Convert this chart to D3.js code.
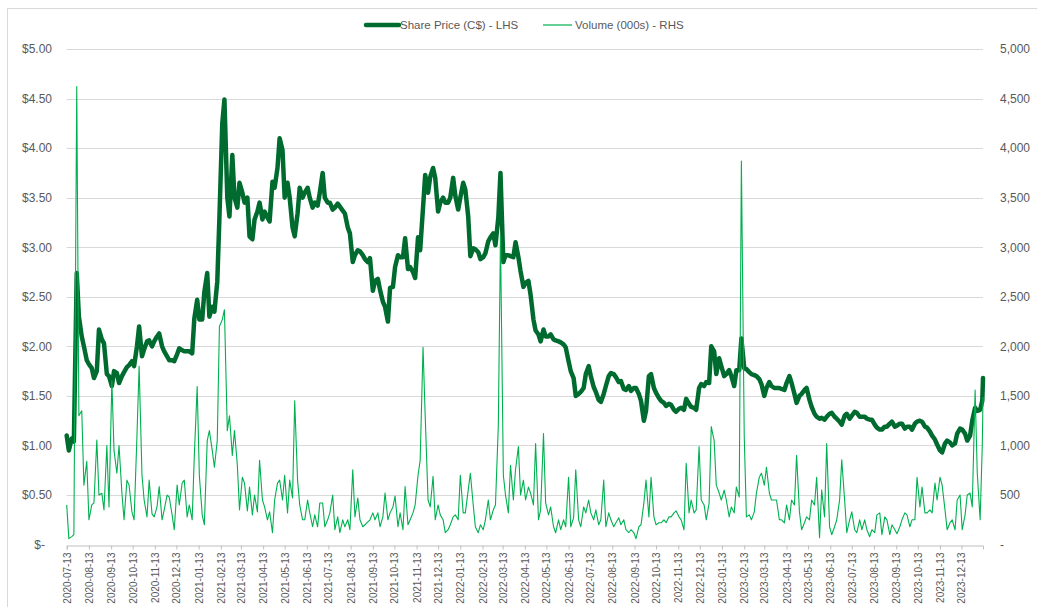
<!DOCTYPE html>
<html>
<head>
<meta charset="utf-8">
<script src="https://cdn.jsdelivr.net/npm/d3@7"></script>
<style>
  body { margin: 0; background: #fff; }
  text { font-family: "Liberation Sans", Arial, sans-serif; }
</style>
</head>
<body>
<div id="chart"></div>
<script>
// Data -------------------------------------
// weekly dates (Mondays), last entry is the final trading day
var weeks = [
  "2020-07-13","2020-07-20","2020-07-27","2020-08-03","2020-08-10","2020-08-17","2020-08-24","2020-08-31",
  "2020-09-07","2020-09-14","2020-09-21","2020-09-28","2020-10-05","2020-10-12","2020-10-19","2020-10-26",
  "2020-11-02","2020-11-09","2020-11-16","2020-11-23","2020-11-30","2020-12-07","2020-12-14","2020-12-21","2020-12-28",
  "2021-01-04","2021-01-11","2021-01-18","2021-01-25","2021-02-01","2021-02-08","2021-02-15","2021-02-22",
  "2021-03-01","2021-03-08","2021-03-15","2021-03-22","2021-03-29","2021-04-05","2021-04-12","2021-04-19","2021-04-26",
  "2021-05-03","2021-05-10","2021-05-17","2021-05-24","2021-05-31","2021-06-07","2021-06-14","2021-06-21","2021-06-28",
  "2021-07-05","2021-07-12","2021-07-19","2021-07-26","2021-08-02","2021-08-09","2021-08-16","2021-08-23","2021-08-30",
  "2021-09-06","2021-09-13","2021-09-20","2021-09-27","2021-10-04","2021-10-11","2021-10-18","2021-10-25",
  "2021-11-01","2021-11-08","2021-11-15","2021-11-22","2021-11-29","2021-12-06","2021-12-13","2021-12-20","2021-12-27",
  "2022-01-03","2022-01-10","2022-01-17","2022-01-24","2022-01-31","2022-02-07","2022-02-14","2022-02-21","2022-02-28",
  "2022-03-07","2022-03-14","2022-03-21","2022-03-28","2022-04-04","2022-04-11","2022-04-18","2022-04-25",
  "2022-05-02","2022-05-09","2022-05-16","2022-05-23","2022-05-30","2022-06-06","2022-06-13","2022-06-20","2022-06-27",
  "2022-07-04","2022-07-11","2022-07-18","2022-07-25","2022-08-01","2022-08-08","2022-08-15","2022-08-22","2022-08-29",
  "2022-09-05","2022-09-12","2022-09-19","2022-09-26","2022-10-03","2022-10-10","2022-10-17","2022-10-24","2022-10-31",
  "2022-11-07","2022-11-14","2022-11-21","2022-11-28","2022-12-05","2022-12-12","2022-12-19","2022-12-26",
  "2023-01-02","2023-01-09","2023-01-16","2023-01-23","2023-01-30","2023-02-06","2023-02-13","2023-02-20","2023-02-27",
  "2023-03-06","2023-03-13","2023-03-20","2023-03-27","2023-04-03","2023-04-10","2023-04-17","2023-04-24",
  "2023-05-01","2023-05-08","2023-05-15","2023-05-22","2023-05-29","2023-06-05","2023-06-12","2023-06-19","2023-06-26",
  "2023-07-03","2023-07-10","2023-07-17","2023-07-24","2023-07-31","2023-08-07","2023-08-14","2023-08-21","2023-08-28",
  "2023-09-04","2023-09-11","2023-09-18","2023-09-25","2023-10-02","2023-10-09","2023-10-16","2023-10-23","2023-10-30",
  "2023-11-06","2023-11-13","2023-11-20","2023-11-27","2023-12-04","2023-12-11","2023-12-18","2023-12-25",
  "2024-01-01","2024-01-08","2024-01-12"
];

// Share price (C$), two readings per week: [Monday, Thursday]
var sharePrice = [
  [1.10,0.95],[1.07,1.04],[2.74,2.30],[2.10,2.00],[1.86,1.82],[1.78,1.68],[1.75,2.17],[2.07,2.03],[1.72,1.70],[1.60,1.75],
  [1.73,1.63],[1.70,1.74],[1.79,1.81],[1.85,1.80],[2.00,2.20],[1.90,1.97],[2.05,2.06],[2.00,2.05],[2.10,2.13],[2.00,1.95],
  [1.90,1.86],[1.86,1.85],[1.92,1.98],[1.96,1.95],[1.95,1.95],[1.93,2.28],[2.47,2.27],[2.27,2.55],[2.74,2.30],[2.40,2.35],
  [2.65,3.30],[4.25,4.49],[3.50,3.31],[3.93,3.50],[3.40,3.65],[3.55,3.45],[3.50,3.11],[3.08,3.28],[3.36,3.45],[3.28,3.36],
  [3.30,3.26],[3.66,3.60],[3.80,4.10],[3.98,3.50],[3.65,3.50],[3.20,3.11],[3.34,3.60],[3.50,3.55],[3.60,3.50],[3.40,3.45],
  [3.42,3.55],[3.75,3.50],[3.45,3.45],[3.38,3.40],[3.44,3.41],[3.37,3.34],[3.20,3.14],[2.85,2.92],[2.97,2.96],[2.92,2.88],
  [2.85,2.89],[2.56,2.66],[2.68,2.57],[2.45,2.40],[2.25,2.59],[2.60,2.80],[2.92,2.90],[2.90,3.09],[2.78,2.80],[2.75,2.69],
  [3.10,2.97],[3.40,3.73],[3.55,3.71],[3.80,3.70],[3.36,3.45],[3.50,3.45],[3.45,3.50],[3.70,3.52],[3.38,3.50],[3.65,3.58],
  [3.31,2.91],[2.99,2.98],[2.95,2.88],[2.90,2.94],[3.06,3.10],[3.14,3.02],[3.30,3.75],[2.85,2.92],[2.92,2.91],[2.90,3.05],
  [2.90,2.76],[2.60,2.64],[2.66,2.52],[2.27,2.16],[2.12,2.05],[2.17,2.10],[2.10,2.12],[2.07,2.06],[2.05,2.04],[2.02,1.99],
  [1.85,1.75],[1.68,1.50],[1.52,1.54],[1.58,1.72],[1.80,1.70],[1.59,1.54],[1.46,1.44],[1.52,1.60],[1.70,1.73],[1.72,1.69],
  [1.64,1.65],[1.57,1.56],[1.60,1.55],[1.58,1.58],[1.52,1.45],[1.25,1.35],[1.70,1.72],[1.58,1.53],[1.48,1.45],[1.43,1.40],
  [1.42,1.41],[1.36,1.34],[1.37,1.38],[1.36,1.47],[1.42,1.39],[1.38,1.36],[1.58,1.62],[1.60,1.64],[1.63,2.00],[1.95,1.72],
  [1.88,1.80],[1.70,1.72],[1.76,1.70],[1.60,1.76],[1.76,2.08],[1.78,1.77],[1.74,1.72],[1.71,1.70],[1.67,1.62],[1.50,1.58],
  [1.64,1.60],[1.58,1.58],[1.58,1.57],[1.56,1.63],[1.70,1.63],[1.52,1.43],[1.50,1.52],[1.56,1.58],[1.46,1.39],[1.32,1.29],
  [1.27,1.28],[1.26,1.29],[1.32,1.33],[1.29,1.27],[1.24,1.21],[1.30,1.32],[1.27,1.30],[1.34,1.33],[1.29,1.29],[1.29,1.27],
  [1.26,1.26],[1.21,1.18],[1.16,1.16],[1.19,1.19],[1.22,1.24],[1.19,1.20],[1.22,1.22],[1.17,1.19],[1.19,1.16],[1.22,1.24],
  [1.25,1.24],[1.19,1.18],[1.14,1.10],[1.06,1.01],[0.95,0.93],[1.02,1.05],[1.03,1.00],[1.02,1.12],[1.17,1.16],[1.12,1.05],
  [1.10,1.25],[1.38,1.35],[1.36,1.45],[1.68]
];

// Volume (000s), two readings per week: [Monday, Thursday]
var volume = [
  [400,60],[80,100],[4620,1300],[1350,600],[840,250],[400,420],[1056,500],[518,350],[1000,380],[1650,950],
  [720,1000],[520,250],[650,600],[330,250],[1100,1800],[700,450],[280,650],[310,280],[380,585],[250,350],
  [500,480],[300,150],[600,400],[620,650],[280,400],[250,900],[1595,700],[300,200],[1050,1150],[950,780],
  [1050,2200],[2270,2370],[1150,1300],[900,1150],[800,350],[680,620],[340,580],[300,500],[330,850],[450,380],
  [250,330],[120,450],[620,650],[450,700],[320,650],[470,1450],[650,400],[250,250],[450,320],[180,300],
  [180,420],[420,180],[250,320],[500,150],[280,120],[250,180],[250,150],[755,280],[470,250],[180,200],
  [230,250],[320,250],[320,180],[280,520],[250,320],[380,490],[180,320],[150,585],[200,250],[320,400],
  [700,850],[1990,1300],[450,380],[690,250],[400,300],[250,120],[150,200],[280,300],[250,700],[320,320],
  [550,720],[400,180],[120,200],[150,250],[450,250],[350,400],[1200,3110],[700,500],[320,800],[450,755],
  [990,500],[650,450],[580,520],[400,1020],[250,350],[1120,420],[300,380],[180,120],[250,150],[250,180],
  [680,180],[270,755],[250,180],[380,320],[450,320],[250,350],[200,250],[650,180],[320,250],[180,220],
  [270,200],[250,150],[120,150],[120,60],[180,200],[420,650],[280,680],[280,200],[220,220],[250,220],
  [280,280],[320,340],[280,250],[150,820],[320,450],[320,350],[990,450],[400,250],[420,1190],[1050,600],
  [520,450],[550,450],[280,380],[320,580],[480,3870],[1090,280],[300,250],[330,520],[680,720],[600,780],
  [520,450],[450,450],[250,250],[220,400],[250,450],[400,900],[330,150],[220,280],[250,450],[400,680],
  [70,550],[280,1020],[180,100],[180,250],[450,855],[450,120],[250,330],[150,120],[250,150],[250,150],
  [80,150],[120,300],[320,100],[280,250],[100,200],[150,110],[180,250],[320,300],[180,250],[250,680],
  [380,580],[320,320],[350,320],[620,450],[680,600],[350,150],[220,250],[150,450],[500,150],[300,500],
  [520,380],[1560,720],[250,1000],[1490]
];

var tickLabels = [
  "2020-07-13","2020-08-13","2020-09-13","2020-10-13","2020-11-13","2020-12-13",
  "2021-01-13","2021-02-13","2021-03-13","2021-04-13","2021-05-13","2021-06-13",
  "2021-07-13","2021-08-13","2021-09-13","2021-10-13","2021-11-13","2021-12-13",
  "2022-01-13","2022-02-13","2022-03-13","2022-04-13","2022-05-13","2022-06-13",
  "2022-07-13","2022-08-13","2022-09-13","2022-10-13","2022-11-13","2022-12-13",
  "2023-01-13","2023-02-13","2023-03-13","2023-04-13","2023-05-13","2023-06-13",
  "2023-07-13","2023-08-13","2023-09-13","2023-10-13","2023-11-13","2023-12-13"
];
var priceTicks = [0, 0.5, 1, 1.5, 2, 2.5, 3, 3.5, 4, 4.5, 5];
var volumeTicks = [0, 500, 1000, 1500, 2000, 2500, 3000, 3500, 4000, 4500, 5000];

// Chart settings -------------------------------------
var width = 1037;
var height = 607;
var plotLeft = 66.7;
var plotRight = 983;
var plotTop = 49;
var plotBottom = 544.6;
var priceColor = '#006b2f';
var volumeColor = '#00b050';
var textColor = '#595959';

var parseDate = d3.timeParse('%Y-%m-%d');

// turn [Mon, Thu] readings into dated points
var toPoints = function(series) {
  var points = [];
  series.forEach(function(pair, i) {
    pair.forEach(function(v, j) {
      points.push({ date: d3.timeDay.offset(parseDate(weeks[i]), j * 3), value: v });
    });
  });
  return points;
};

var svg = d3.select('#chart')
  .append('svg')
  .attr('width', width)
  .attr('height', height);

// chart border (top and left edges visible)
svg.append('path')
  .attr('d', 'M7.5,' + height + 'V8.5H' + width)
  .attr('fill', 'none')
  .attr('stroke', '#d9d9d9');

// Scales -------------------------------------
var x = d3.scaleTime()
  .domain([parseDate(weeks[0]), parseDate(weeks[weeks.length - 1])])
  .range([plotLeft, plotRight]);

var yPrice = d3.scaleLinear()
  .domain([0, 5])
  .range([plotBottom, plotTop]);

var yVolume = d3.scaleLinear()
  .domain([0, 5000])
  .range([plotBottom, plotTop]);

// Gridlines -------------------------------------
svg.append('g')
  .selectAll('line')
  .data(priceTicks.slice(1))
  .enter()
  .append('line')
  .attr('x1', plotLeft)
  .attr('x2', plotRight)
  .attr('y1', function(d) { return Math.round(yPrice(d)) + 0.5; })
  .attr('y2', function(d) { return Math.round(yPrice(d)) + 0.5; })
  .attr('stroke', '#d9d9d9')
  .attr('stroke-width', 1);

// Left axis (price) -------------------------------------
var leftAxis = svg.append('g')
  .attr('transform', 'translate(52,0)')
  .call(d3.axisLeft(yPrice)
    .tickValues(priceTicks)
    .tickSize(0)
    .tickPadding(0)
    .tickFormat(function(d) { return d === 0 ? '$-' : d3.format('$.2f')(d); }));
leftAxis.select('.domain').remove();
leftAxis.selectAll('text')
  .attr('fill', textColor)
  .style('font-size', '12px')
  .attr('dx', function(d) { return d === 0 ? -7 : 0; });

// Right axis (volume) -------------------------------------
var rightAxis = svg.append('g')
  .attr('transform', 'translate(1000,0)')
  .call(d3.axisRight(yVolume)
    .tickValues(volumeTicks)
    .tickSize(0)
    .tickPadding(0)
    .tickFormat(function(d) { return d === 0 ? '-' : d3.format(',')(d); }));
rightAxis.select('.domain').remove();
rightAxis.selectAll('text')
  .attr('fill', textColor)
  .style('font-size', '12px');

// Bottom axis (dates) -------------------------------------
var bottomAxis = svg.append('g')
  .attr('transform', 'translate(0,' + (Math.round(plotBottom) + 0.5) + ')')
  .call(d3.axisBottom(x)
    .tickValues(tickLabels.map(parseDate))
    .tickSize(4)
    .tickSizeOuter(4)
    .tickFormat(d3.timeFormat('%Y-%m-%d')));
bottomAxis.select('.domain').attr('stroke', '#bfbfbf');
bottomAxis.selectAll('.tick line').attr('stroke', '#bfbfbf');
bottomAxis.selectAll('text')
  .attr('fill', textColor)
  .style('font-size', '10px')
  .attr('text-anchor', 'end')
  .attr('transform', 'rotate(-90)')
  .attr('x', -7)
  .attr('y', 0)
  .attr('dy', '0.35em');

// Share price line -------------------------------------
var priceLine = d3.line()
  .x(function(d) { return x(d.date); })
  .y(function(d) { return yPrice(d.value); });

svg.append('path')
  .datum(toPoints(sharePrice))
  .attr('d', priceLine)
  .attr('fill', 'none')
  .attr('stroke', priceColor)
  .attr('stroke-width', 4.5)
  .attr('stroke-linejoin', 'round')
  .attr('stroke-linecap', 'round');

// Volume line -------------------------------------
var volumeLine = d3.line()
  .x(function(d) { return x(d.date); })
  .y(function(d) { return yVolume(d.value); });

svg.append('path')
  .datum(toPoints(volume))
  .attr('d', volumeLine)
  .attr('fill', 'none')
  .attr('stroke', volumeColor)
  .attr('stroke-width', 1.1)
  .attr('stroke-linejoin', 'round');

// Legend -------------------------------------
var legend = svg.append('g').attr('transform', 'translate(0,25)');
legend.append('line')
  .attr('x1', 366).attr('x2', 399)
  .attr('stroke', priceColor)
  .attr('stroke-width', 4.5)
  .attr('stroke-linecap', 'round');
legend.append('text')
  .attr('x', 400).attr('dy', '0.35em')
  .attr('fill', textColor)
  .style('font-size', '11.5px')
  .text('Share Price (C$) - LHS');
legend.append('line')
  .attr('x1', 543).attr('x2', 572)
  .attr('stroke', volumeColor)
  .attr('stroke-width', 1.2);
legend.append('text')
  .attr('x', 575).attr('dy', '0.35em')
  .attr('fill', textColor)
  .style('font-size', '11.5px')
  .text('Volume (000s) - RHS');
</script>
</body>
</html>
